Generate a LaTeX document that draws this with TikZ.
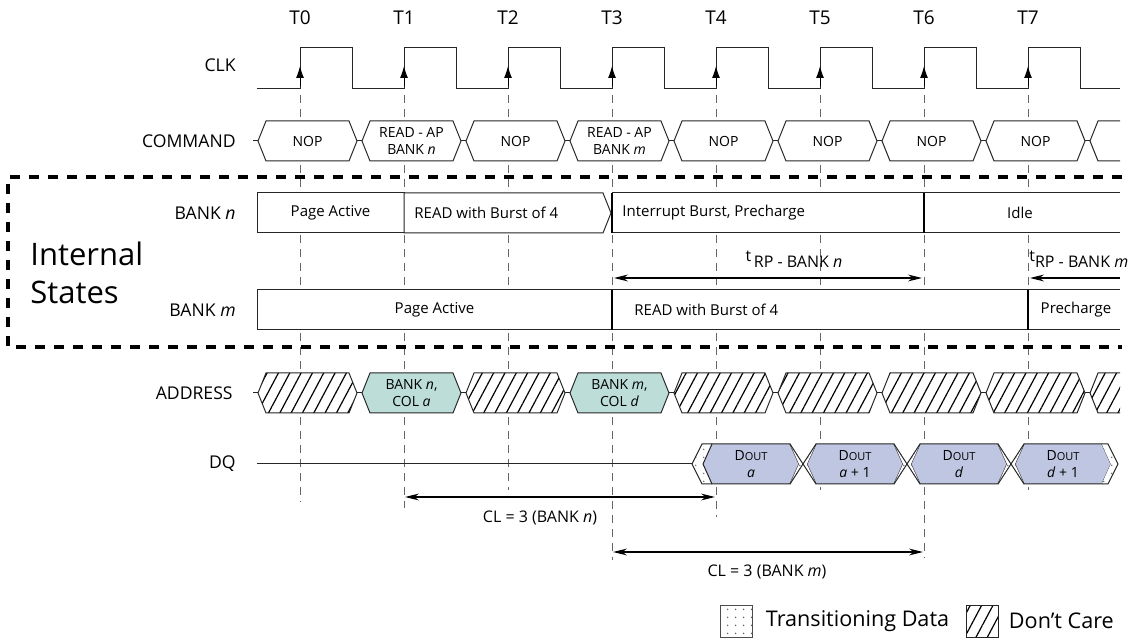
\documentclass[tikz,border=0pt]{standalone}
\usepackage{fontspec}
\setmainfont{Open Sans}
\usetikzlibrary{arrows.meta,patterns.meta,positioning}
\definecolor{addressTeal}{RGB}{189,221,216}
\definecolor{doutBlue}{RGB}{190,198,225}
\tikzset{
  timing diagram wave/.style={draw=black!85, line width=0.5pt},
  timing diagram guide/.style={draw=black!60, line width=0.5pt, dash pattern=on 4pt off 3pt},
  timing diagram border/.style={draw=black, line width=2pt, dash pattern=on 5pt off 4.5pt},
  timing diagram edge/.style={-{Latex[length=6pt,width=4pt]}, line width=0.5pt},
  timing diagram span/.style={{Stealth[length=7pt,width=3.4pt]}-{Stealth[length=7pt,width=3.4pt]}, line width=0.55pt},
  timing diagram bus/.style={draw=black!85, line width=0.5pt, fill=white},
  timing diagram dont care/.style={
    draw=black!85, line width=0.5pt,
    preaction={fill=white},
    pattern={Lines[angle=62,distance=5pt,line width=0.6pt]},
    pattern color=black
  },
  timing diagram transition/.style={
    preaction={fill=white},
    pattern={Dots[radius=0.45pt,distance=4pt]},
    pattern color=black!60
  },
  timing diagram signal/.style={font=\fontsize{8.8}{10}\selectfont, anchor=east, inner sep=0pt},
  timing diagram tick/.style={font=\fontsize{9.5}{10}\selectfont, inner sep=0pt},
  timing diagram bus text/.style={font=\fontsize{7}{8.2}\selectfont, align=center, inner sep=0pt},
  timing diagram state text/.style={font=\fontsize{7.5}{8.5}\selectfont, inner sep=0pt},
  timing diagram note/.style={font=\fontsize{8}{9}\selectfont, inner sep=0pt},
  timing diagram divider/.style={draw=black, line width=1pt},
  timing diagram legend/.style={minimum size=16pt, inner sep=0pt, draw=black!70, line width=0.5pt},
  timing diagram legend text/.style={font=\fontsize{10.8}{12}\selectfont, inner sep=0pt}
}
\newcommand{\timingDiagramSlot}[5][]{%
  \draw[timing diagram bus,#1] (#2,#3) -- ++(8,-20) -- ++(83,0) -- ++(8,20) -- ++(-8,20) -- ++(-83,0) -- cycle;%
  \node[timing diagram bus text] (#4) at ({#2+49.5},#3) {#5};%
}
\newcommand{\timingDiagramCross}[1]{%
  \path[timing diagram transition] ({#1-13},444) -- (#1,464) -- ({#1-13},484) -- ({#1-4},464) -- cycle;%
  \path[timing diagram transition] ({#1+13},444) -- (#1,464) -- ({#1+13},484) -- ({#1+4},464) -- cycle;%
  \draw[timing diagram wave] ({#1-13},444) -- ({#1+13},484);%
  \draw[timing diagram wave] ({#1-13},484) -- ({#1+13},444);%
}

\begin{document}
\begin{tikzpicture}[x=0.5pt,y=-0.5pt]
  \useasboundingbox (0,0) rectangle (1130,641);

  % clock edges and guides
  \foreach \i in {0,...,7}
    \coordinate (T\i) at ({300+104*\i},95);
  \foreach \i/\bottom in {0/502,1/508,2/490,3/560,4/517,5/490,6/558,7/490}
    \draw[timing diagram guide] (T\i) -- ({300+104*\i},\bottom);

  \draw[timing diagram border] (1122,177) -- (8,177) -- (8,347) -- (1122,347);

  \foreach \i in {0,...,7}
    \node[timing diagram tick] (tick\i) at ({300+104*\i},18) {T\i};

  % signal names
  \node[timing diagram signal] (clk label) at (236,65) {CLK};
  \node[timing diagram signal] (cmd label) at (236,141) {COMMAND};
  \node[timing diagram signal] (bank n label) at (236,213) {BANK \textit{n}};
  \node[timing diagram signal] (bank m label) at (236,310) {BANK \textit{m}};
  \node[timing diagram signal] (addr label) at (233,393) {ADDRESS};
  \node[timing diagram signal] (dq label) at (236,464) {DQ};
  \node[font=\fontsize{15.5}{19}\selectfont, align=left, anchor=west, inner sep=0pt]
    (internal states) at (30,273) {Internal\\States};

  % CLK
  \draw[timing diagram wave] (257,89)
    \foreach \i in {0,...,7} { -- ({300+104*\i},89) -- ({300+104*\i},48)
      -- ({352+104*\i},48) -- ({352+104*\i},89) }
    -- (1120,89);
  \foreach \i in {0,...,7}
    \draw[timing diagram edge] ({300+104*\i},86) -- ({300+104*\i},66);

  % COMMAND
  \draw[timing diagram wave] (253,141) -- (258,141);
  \foreach \k/\cmd in {0/NOP,1/{READ - AP\\BANK \textit{n}},2/NOP,3/{READ - AP\\BANK \textit{m}},
                       4/NOP,5/NOP,6/NOP,7/NOP} {
    \timingDiagramSlot{258+104*\k}{141}{cmd\k}{\cmd}
    \draw[timing diagram wave] ({357+104*\k},141) -- ++(5,0);
  }
  \draw[timing diagram bus] (1120,121) -- (1098,121) -- (1090,141) -- (1098,161) -- (1120,161);

  % BANK n
  \draw[timing diagram bus] (257,193) rectangle (404,233);
  \node[timing diagram state text] (bank n active) at (330.5,213) {Page Active};
  \draw[timing diagram bus] (404,193) -- (603,193) -- (611,213) -- (603,233) -- (404,233) -- cycle;
  \node[timing diagram state text, anchor=west] (bank n read) at (414,213) {READ with Burst of 4};
  \draw[timing diagram bus] (612,193) rectangle (924,233);
  \draw[timing diagram divider] (612,193) -- (612,233);
  \node[timing diagram state text, anchor=west] (bank n interrupt) at (622,213) {Interrupt Burst, Precharge};
  \draw[timing diagram bus] (1120,193) -- (924,193) -- (924,233) -- (1120,233);
  \draw[timing diagram divider] (924,193) -- (924,233);
  \node[timing diagram state text] (bank n idle) at (1020,213) {Idle};

  % tRP
  \coordinate (trp n from) at (614,278);
  \coordinate (trp n to) at (922,278);
  \draw[timing diagram span] (trp n from) -- (trp n to);
  \node[timing diagram note] (trp n label) at (794,259) {\raisebox{3pt}{t}\,RP - BANK \textit{n}};
  \coordinate (trp m from) at (1120,278);
  \coordinate (trp m to) at (1030,278);
  \draw[-{Stealth[length=7pt,width=3.4pt]}, line width=0.55pt] (trp m from) -- (trp m to);
  \node[timing diagram note, anchor=west] (trp m label) at (1029,259) {\raisebox{3pt}{t}RP - BANK \textit{m}};

  % BANK m
  \draw[timing diagram bus] (257,290) rectangle (612,330);
  \node[timing diagram state text] (bank m active) at (434.5,310) {Page Active};
  \draw[timing diagram bus] (612,290) rectangle (1028,330);
  \draw[timing diagram divider] (612,290) -- (612,330);
  \node[timing diagram state text, anchor=west] (bank m read) at (634,310) {READ with Burst of 4};
  \draw[timing diagram bus] (1120,290) -- (1028,290) -- (1028,330) -- (1120,330);
  \draw[timing diagram divider] (1028,290) -- (1028,330);
  \node[timing diagram state text] (bank m precharge) at (1076,310) {Precharge};

  % ADDRESS
  \draw[timing diagram wave] (253,393) -- (258,393);
  \foreach \k in {0,2,4,5,6,7}
    \timingDiagramSlot[timing diagram dont care]{258+104*\k}{393}{addr\k}{};
  \timingDiagramSlot[fill=addressTeal]{362}{393}{addr1}{BANK \textit{n},\\COL \textit{a}}
  \timingDiagramSlot[fill=addressTeal]{570}{393}{addr3}{BANK \textit{m},\\COL \textit{d}}
  \foreach \k in {0,...,7}
    \draw[timing diagram wave] ({357+104*\k},393) -- ++(5,0);
  \draw[timing diagram dont care] (1120,373) -- (1098,373) -- (1090,393) -- (1098,413) -- (1120,413);

  % DQ
  \draw[timing diagram wave] (257,464) -- (692,464);
  \path[timing diagram transition] (692,464) -- (702,444) -- (712,444) -- (703,464) -- (712,484) -- (702,484) -- cycle;
  \draw[timing diagram wave] (712,444) -- (702,444) -- (692,464) -- (702,484) -- (712,484);
  \foreach \k/\dout in {0/{\textit{a}},1/{\textit{a} + 1},2/{\textit{d}},3/{\textit{d} + 1}} {
    \draw[timing diagram bus, fill=doutBlue] ({712+104*\k},444) -- ({790+104*\k},444) -- ({799+104*\k},464)
      -- ({790+104*\k},484) -- ({712+104*\k},484) -- ({703+104*\k},464) -- cycle;
    \node[timing diagram bus text] (dout\k) at ({751+104*\k},464)
      {D{\fontsize{5.5}{6}\selectfont OUT}\\\dout};
  }
  \foreach \c in {803,907,1011}
    \timingDiagramCross{\c}
  \path[timing diagram transition] (1102,444) -- (1108,444) -- (1118,464) -- (1108,484) -- (1102,484) -- (1111,464) -- cycle;
  \draw[timing diagram wave] (1102,444) -- (1108,444) -- (1118,464) -- (1108,484) -- (1102,484);

  % CAS latency
  \coordinate (cl n from) at (405,497);
  \coordinate (cl n to) at (715,497);
  \draw[timing diagram span] (cl n from) -- (cl n to);
  \node[timing diagram note] (cl n label) at (540,518) {CL = 3 (BANK \textit{n})};
  \coordinate (cl m from) at (613,552);
  \coordinate (cl m to) at (923,552);
  \draw[timing diagram span] (cl m from) -- (cl m to);
  \node[timing diagram note] (cl m label) at (767,572) {CL = 3 (BANK \textit{m})};

  % legend
  \node[timing diagram legend, timing diagram transition] (legend transition) at (736,621) {};
  \node[timing diagram legend text, right=6.5pt of legend transition] (legend transition text) {Transitioning Data};
  \node[timing diagram legend, timing diagram dont care, right=8pt of legend transition text] (legend dont care) {};
  \node[timing diagram legend text, right=5pt of legend dont care] (legend dont care text) {Don't Care};
\end{tikzpicture}
\end{document}
